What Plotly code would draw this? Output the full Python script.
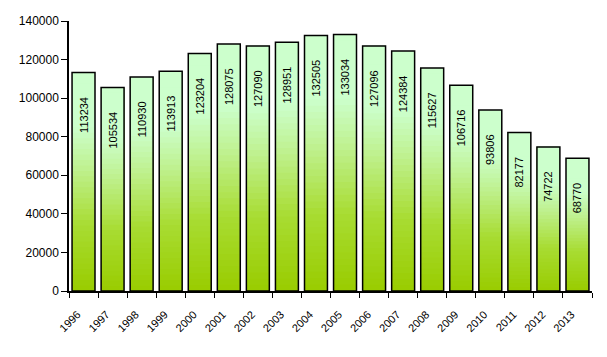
import plotly.graph_objects as go

years = [str(y) for y in range(1996, 2014)]
values = [113234, 105534, 110930, 113913, 123204, 128075, 127090, 128951,
          132505, 133034, 127096, 124384, 115627, 106716, 93806, 82177, 74722, 68770]

y_ticks = [0, 20000, 40000, 60000, 80000, 100000, 120000, 140000]

# gradient stops (fraction of bar height -> colour)
grad_stops = [(0.0, (153, 204, 0)), (0.3, (168, 220, 50)), (0.55, (190, 240, 140)),
              (0.75, (204, 255, 204)), (1.0, (204, 255, 204))]


def grad_color(t):
    for (t0, c0), (t1, c1) in zip(grad_stops[:-1], grad_stops[1:]):
        if t0 <= t <= t1:
            f = (t - t0) / (t1 - t0) if t1 > t0 else 0
            c = [round(a + (b - a) * f) for a, b in zip(c0, c1)]
            return "rgb(%d,%d,%d)" % tuple(c)
    return "rgb(%d,%d,%d)" % grad_stops[-1][1]


N = 40
fig = go.Figure()
for k in range(N):
    fig.add_trace(go.Bar(
        x=years,
        y=[v * (N - k) / N for v in values],
        base=[v * k / N for v in values],
        marker=dict(color=grad_color((k + 0.5) / N), line=dict(width=0)),
        hoverinfo="skip",
        showlegend=False,
    ))

pad = "\u00a0" * 7 + "\u200b"
fig.add_trace(go.Bar(
    x=years,
    y=values,
    marker=dict(color="rgba(0,0,0,0)", line=dict(color="black", width=1.5)),
    text=[f"{v}{pad}" for v in values],
    textposition="inside",
    insidetextanchor="end",
    textangle=-90,
    insidetextfont=dict(family="Liberation Sans, Arial", size=11, color="black"),
    constraintext="none",
    showlegend=False,
))

# the page body has an 8px margin, so the figure is offset by 8px
fig.update_layout(
    barmode="overlay",
    bargap=0.21,
    width=607,
    height=357,
    margin=dict(l=61, r=23, t=13, b=74),
    paper_bgcolor="white",
    plot_bgcolor="white",
    font=dict(family="Liberation Sans, Arial", color="black"),
)
fig.update_xaxes(
    type="category", automargin=False,
    showline=True, linecolor="black", linewidth=1.5,
    ticks="outside", ticklen=5, tickcolor="black", tickson="boundaries",
    tickangle=-45, tickfont=dict(size=11),
    ticklabelshift=-6, ticklabelstandoff=11,
    showgrid=False, zeroline=False,
)
fig.update_yaxes(
    range=[0, 140000], automargin=False,
    tickvals=y_ticks, ticktext=[str(t) for t in y_ticks],
    showline=True, linecolor="black", linewidth=1.5,
    ticks="outside", ticklen=6, tickcolor="black",
    tickfont=dict(size=12),
    showgrid=False, zeroline=False,
)

fig.write_html("out.html")
